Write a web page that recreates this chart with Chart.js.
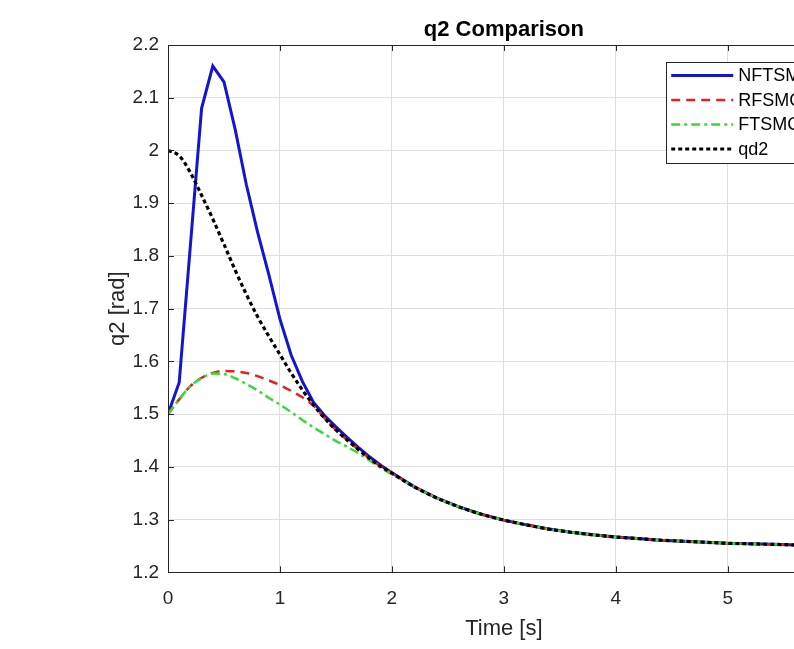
<!DOCTYPE html>
<html>
<head>
<meta charset="utf-8">
<title>q2 Comparison</title>
<script src="https://cdn.jsdelivr.net/npm/chart.js@4.4.0/dist/chart.umd.min.js"></script>
<style>
html, body { margin: 0; padding: 0; overflow: hidden; background: #fff; }
canvas { display: block; }
</style>
</head>
<body>
<canvas id="q2chart" width="860" height="649"></canvas>
<script>
// data
var time = [0, 0.1, 0.2, 0.3, 0.4, 0.5, 0.6, 0.7, 0.8, 0.9, 1.0, 1.1, 1.2, 1.3, 1.4, 1.5, 1.6, 1.7, 1.8, 1.9, 2.0,
    2.2, 2.4, 2.6, 2.8, 3.0, 3.2, 3.4, 3.6, 3.8, 4.0, 4.2, 4.4, 4.6, 4.8, 5.0, 5.2, 5.4, 5.6, 5.8, 6.0];

var nftsmc = [1.500, 1.560, 1.820, 2.080, 2.160, 2.130, 2.040, 1.935, 1.845, 1.765, 1.680, 1.612, 1.562, 1.522, 1.497, 1.476, 1.456, 1.437, 1.419, 1.403, 1.389,
    1.362, 1.341, 1.324, 1.310, 1.299, 1.290, 1.282, 1.276, 1.271, 1.267, 1.264, 1.261, 1.259, 1.257, 1.255, 1.254, 1.253, 1.252, 1.251, 1.251];

var rfsmc = [1.500, 1.528, 1.553, 1.569, 1.578, 1.582, 1.581, 1.578, 1.572, 1.564, 1.555, 1.544, 1.532, 1.516, 1.492, 1.470, 1.451, 1.433, 1.416, 1.401, 1.388,
    1.362, 1.341, 1.324, 1.310, 1.299, 1.290, 1.282, 1.276, 1.271, 1.267, 1.264, 1.261, 1.259, 1.257, 1.255, 1.254, 1.253, 1.252, 1.251, 1.251];

var ftsmc = [1.500, 1.528, 1.553, 1.568, 1.577, 1.576, 1.568, 1.557, 1.545, 1.531, 1.518, 1.504, 1.489, 1.475, 1.462, 1.449, 1.438, 1.426, 1.412, 1.398, 1.386,
    1.362, 1.341, 1.324, 1.310, 1.299, 1.290, 1.282, 1.276, 1.271, 1.267, 1.264, 1.261, 1.259, 1.257, 1.255, 1.254, 1.253, 1.252, 1.251, 1.251];

var qd2 = [2.000, 1.990, 1.958, 1.915, 1.870, 1.822, 1.773, 1.727, 1.685, 1.648, 1.613, 1.578, 1.546, 1.517, 1.492, 1.470, 1.451, 1.433, 1.416, 1.401, 1.388,
    1.362, 1.341, 1.324, 1.310, 1.299, 1.290, 1.282, 1.276, 1.271, 1.267, 1.264, 1.261, 1.259, 1.257, 1.255, 1.254, 1.253, 1.252, 1.251, 1.251];

var xTicks = [0, 1, 2, 3, 4, 5, 6];
var yTicks = [1.2, 1.3, 1.4, 1.5, 1.6, 1.7, 1.8, 1.9, 2.0, 2.1, 2.2];

var FONT = '"Liberation Sans", Arial, Helvetica, sans-serif';

function pts(ys) {
    return time.map(function (t, i) { return { x: t, y: ys[i] }; });
}

// axes box + inward tick marks like matlab
var frame = {
    id: 'frame',
    afterDatasetsDraw: function (chart) {
        var a = chart.chartArea, ctx = chart.ctx;
        var xs = chart.scales.x, ys = chart.scales.y;
        var len = 6;
        ctx.save();
        ctx.strokeStyle = '#262626';
        ctx.lineWidth = 1;
        ctx.strokeRect(Math.round(a.left) + 0.5, Math.round(a.top) + 0.5, Math.round(a.right - a.left), Math.round(a.bottom - a.top));
        ctx.beginPath();
        xTicks.forEach(function (v) {
            var px = Math.round(xs.getPixelForValue(v)) + 0.5;
            ctx.moveTo(px, a.bottom); ctx.lineTo(px, a.bottom - len);
            ctx.moveTo(px, a.top); ctx.lineTo(px, a.top + len);
        });
        yTicks.forEach(function (v) {
            var py = Math.round(ys.getPixelForValue(v)) + 0.5;
            ctx.moveTo(a.left, py); ctx.lineTo(a.left + len, py);
            ctx.moveTo(a.right, py); ctx.lineTo(a.right - len, py);
        });
        ctx.stroke();
        ctx.restore();
    }
};

// legend box in the upper right corner
var legendBox = {
    id: 'legendBox',
    afterDraw: function (chart) {
        var ctx = chart.ctx, a = chart.chartArea;
        var x0 = a.right - 173.5, y0 = a.top + 17, w = 168, h = 101, rowH = 24.5;
        ctx.save();
        ctx.fillStyle = '#fff';
        ctx.fillRect(x0, y0, w, h);
        ctx.strokeStyle = '#262626';
        ctx.lineWidth = 1;
        ctx.strokeRect(Math.round(x0) + 0.5, Math.round(y0) + 0.5, w, h);
        chart.data.datasets.forEach(function (ds, i) {
            var y = y0 + 13.5 + i * rowH;
            ctx.beginPath();
            ctx.setLineDash(ds.borderDash || []);
            ctx.strokeStyle = ds.borderColor;
            ctx.lineWidth = ds.borderWidth;
            ctx.moveTo(x0 + 5, y);
            ctx.lineTo(x0 + 67, y);
            ctx.stroke();
            ctx.setLineDash([]);
            ctx.fillStyle = '#000';
            ctx.font = '18px ' + FONT;
            ctx.textBaseline = 'middle';
            ctx.textAlign = 'left';
            ctx.fillText(ds.label, x0 + 72, y + 1);
        });
        ctx.restore();
    }
};

var ctx = document.getElementById('q2chart').getContext('2d');

var q2Chart = new Chart(ctx, {
    type: 'line',
    data: {
        datasets: [{
            label: 'NFTSMC',
            data: pts(nftsmc),
            borderColor: '#1414d2',
            borderWidth: 3,
            tension: 0,
            order: 4
        }, {
            label: 'RFSMC',
            data: pts(rfsmc),
            borderColor: '#e62020',
            borderWidth: 2.5,
            borderDash: [9, 6],
            cubicInterpolationMode: 'monotone',
            order: 3
        }, {
            label: 'FTSMC',
            data: pts(ftsmc),
            borderColor: '#33dd33',
            borderWidth: 2.5,
            borderDash: [9, 4, 3, 4],
            cubicInterpolationMode: 'monotone',
            order: 2
        }, {
            label: 'qd2',
            data: pts(qd2),
            borderColor: '#000000',
            borderWidth: 3.2,
            borderDash: [4, 3],
            cubicInterpolationMode: 'monotone',
            order: 1
        }]
    },
    options: {
        responsive: false,
        animation: false,
        events: [],
        elements: { point: { radius: 0 } },
        layout: { padding: { left: 98, right: 19.5, top: 0, bottom: 7 } },
        plugins: {
            legend: { display: false },
            tooltip: { enabled: false },
            title: {
                display: true,
                text: 'q2 Comparison',
                fullSize: false,
                color: '#000',
                font: { family: FONT, size: 22, weight: 'bold' },
                padding: { top: 17, bottom: 1.6 }
            }
        },
        scales: {
            x: {
                type: 'linear',
                min: 0,
                max: 6,
                afterBuildTicks: function (scale) {
                    scale.ticks = xTicks.map(function (v) { return { value: v }; });
                },
                afterFit: function (scale) { scale.height = 69.7; },
                ticks: {
                    color: '#262626',
                    font: { family: FONT, size: 19 },
                    padding: 15,
                    maxRotation: 0,
                    callback: function (v) { return String(v); }
                },
                grid: { color: '#dfdfdf', drawTicks: false },
                border: { display: false },
                title: {
                    display: true,
                    text: 'Time [s]',
                    color: '#262626',
                    font: { family: FONT, size: 22 },
                    padding: { top: 0, bottom: 0 }
                }
            },
            y: {
                type: 'linear',
                min: 1.2,
                max: 2.2,
                afterBuildTicks: function (scale) {
                    scale.ticks = yTicks.map(function (v) { return { value: v }; });
                },
                afterFit: function (scale) { scale.width = 70; },
                ticks: {
                    color: '#262626',
                    font: { family: FONT, size: 19 },
                    padding: 9,
                    callback: function (v) { return String(+v.toFixed(1)); }
                },
                grid: { color: '#dfdfdf', drawTicks: false },
                border: { display: false },
                title: {
                    display: true,
                    text: 'q2 [rad]',
                    color: '#262626',
                    font: { family: FONT, size: 22 },
                    padding: { top: 6.5, bottom: 0 }
                }
            }
        }
    },
    plugins: [frame, legendBox]
});
</script>
</body>
</html>
